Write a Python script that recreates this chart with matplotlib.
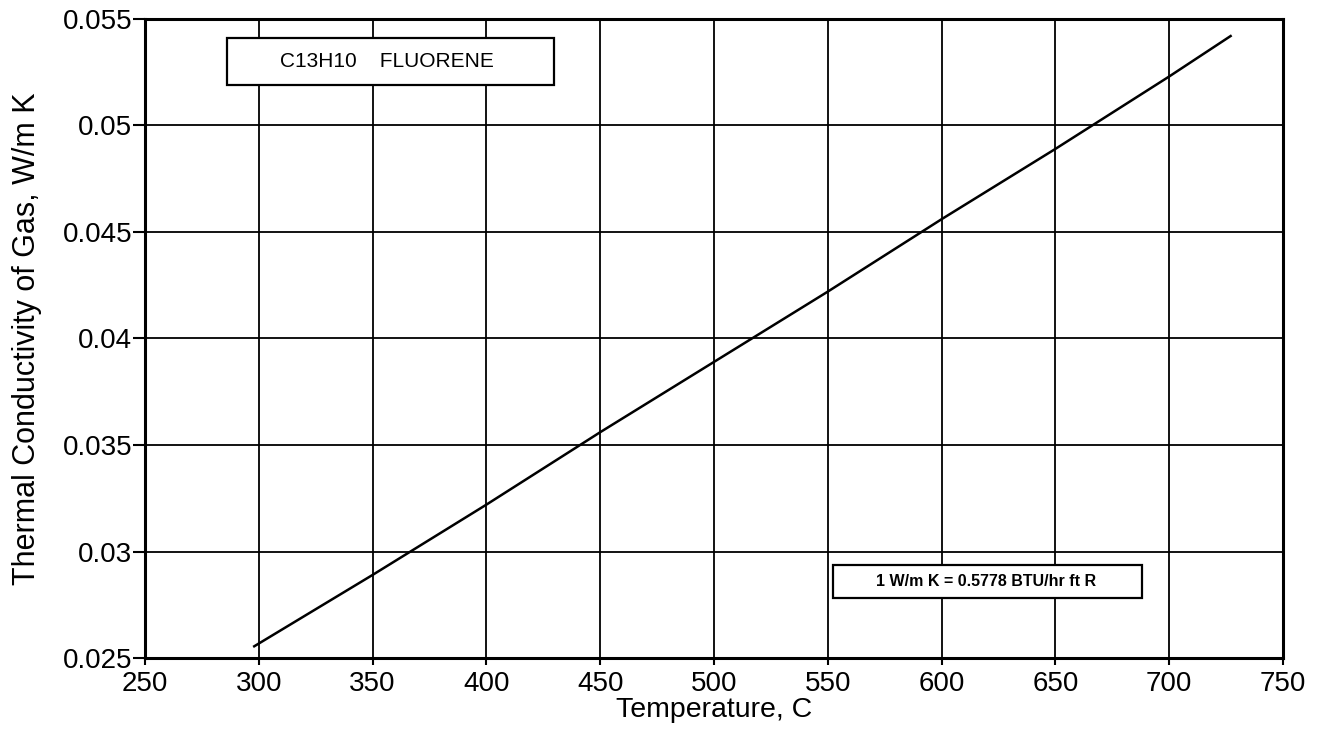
import matplotlib
matplotlib.use("Agg")
import matplotlib.pyplot as plt
from matplotlib.patches import Rectangle

plt.rcParams['font.family'] = ['Liberation Sans', 'DejaVu Sans']

temp_c = [298, 350, 400, 450, 500, 550, 600, 650, 700, 727]
k_gas = [0.02555, 0.0289, 0.0322, 0.0356, 0.0389, 0.0422, 0.0456, 0.0489, 0.0523, 0.0542]

x_ticks = [250, 300, 350, 400, 450, 500, 550, 600, 650, 700, 750]
y_ticks = [0.025, 0.03, 0.035, 0.04, 0.045, 0.05, 0.055]
y_labels = ['0.025', '0.03', '0.035', '0.04', '0.045', '0.05', '0.055']

fig = plt.figure(figsize=(13.24, 7.39), dpi=100)
ax = fig.add_axes([0.1095, 0.1096, 0.8595, 0.8647])

ax.plot(temp_c, k_gas, color='black', lw=1.8)

ax.set_xlim(250, 750)
ax.set_ylim(0.025, 0.055)
ax.set_xticks(x_ticks)
ax.set_yticks(y_ticks)
ax.set_yticklabels(y_labels)
ax.grid(True, color='black', lw=1.3)
for s in ax.spines.values():
    s.set_linewidth(2.2)
ax.tick_params(axis='y', labelsize=20, direction='out', length=9, width=1.5, pad=0)
ax.tick_params(axis='x', labelsize=20, direction='out', length=5, width=1.5, pad=4)

ax.set_xlabel('Temperature, C', fontsize=20.5, labelpad=0)
ax.set_ylabel('Thermal Conductivity of Gas, W/m K', fontsize=22, labelpad=15)

# label boxes
ax.add_patch(Rectangle((0.0721, 0.897), 0.2873, 0.073, transform=ax.transAxes,
                       fc='white', ec='black', lw=1.6, zorder=3))
ax.text(0.2127, 0.9335, 'C13H10    FLUORENE', transform=ax.transAxes, fontsize=15,
        ha='center', va='center', zorder=4)

ax.add_patch(Rectangle((0.6046, 0.0939), 0.2714, 0.0516, transform=ax.transAxes,
                       fc='white', ec='black', lw=1.6, zorder=3))
ax.text(0.7394, 0.1197, '1 W/m K = 0.5778 BTU/hr ft R', transform=ax.transAxes,
        fontsize=11.5, fontweight='bold', ha='center', va='center', zorder=4)

fig.savefig('out.png', dpi=100)
